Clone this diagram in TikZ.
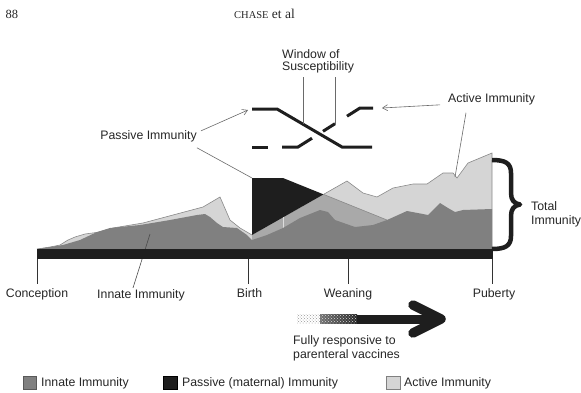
\documentclass[tikz,border=0pt]{standalone}
\usepackage{fontspec}
\setmainfont{Liberation Sans}
\newfontfamily\headserif{Liberation Serif}
\usetikzlibrary{arrows.meta,patterns,calc}
\definecolor{innate}{HTML}{808080}
\definecolor{active}{HTML}{D5D5D5}
\definecolor{overlap}{HTML}{A9A9A9}
\definecolor{passive}{HTML}{1E1E1E}
\definecolor{txt}{HTML}{262626}
\definecolor{thin}{HTML}{6A6A6A}
\definecolor{edge}{HTML}{8A8A8A}
\begin{document}
\begin{tikzpicture}[x=1pt,y=-1pt,
  lbl/.style={font=\fontsize{12.3}{14}\selectfont, text=txt, inner sep=0pt},
  thinline/.style={draw=thin, line width=0.6pt},
  pointer/.style={thinline, -{Straight Barb[length=5pt,width=6pt]}},
  schem/.style={line width=3pt, passive},
  ticks/.style={line width=0.8pt, black!80},
  legbox/.style={line width=0.6pt}]
\useasboundingbox (0,0) rectangle (581,392);

% header
\node[font=\headserif\fontsize{12.5}{14}\selectfont, anchor=base west, inner sep=0pt, text=txt] (pg) at (5.5,18) {88};
\node[font=\headserif\fontsize{13.5}{14}\selectfont, anchor=base west, inner sep=0pt, text=txt] (hd) at (234,18) {{\fontsize{10.5}{12}\selectfont CHASE} et al};

% key points
\coordinate (r0) at (252,235);
\coordinate (r1) at (347,181);
\coordinate (d0) at (283,178);
\coordinate (d1) at (387,220);
\coordinate (cx) at (intersection of r0--r1 and d0--d1);
\coordinate (pcorner) at (252,178);
\coordinate (actpt) at (455,177);
\coordinate (innpt) at (150,234);

% active (total) envelope
\fill[active] (37,249) -- (50,247) -- (60,245) -- (68,240) -- (75,237) -- (85,234) -- (100,232) -- (113,228) -- (143,223) -- (203,207) -- (220,197) -- (230,220) -- (240,228) -- (r0) -- (r1) -- (363,193) -- (377,197) -- (393,188) -- (413,184) -- (427,184) -- (443,173) -- (453,173) -- (457,178) -- (468,163) -- (492,153) -- (492,249) -- cycle;
\draw[edge, line width=0.6pt] (37,249) -- (50,247) -- (60,245) -- (68,240) -- (75,237) -- (85,234) -- (100,232) -- (113,228) -- (143,223) -- (203,207) -- (220,197) -- (230,220) -- (240,228) -- (r0);
\draw[edge, line width=0.6pt] (cx) -- (r1) -- (363,193) -- (377,197) -- (393,188) -- (413,184) -- (427,184) -- (443,173) -- (453,173) -- (457,178) -- (468,163) -- (492,153) -- (492,249);

% overlap of passive and active
\fill[overlap] (r0) -- (cx) -- (d1) -- (387,249) -- (252,249) -- cycle;
% passive (maternal) above
\fill[passive] (pcorner) -- (d0) -- (cx) -- (r0) -- cycle;
\draw[edge, line width=0.6pt] (cx) -- (d1);
\draw[active!80!white, line width=0.6pt] (283,217.4) -- (283,229);

% innate
\fill[innate] (37,249) -- (63,245) -- (80,240) -- (97,232) -- (110,228) -- (140,225) -- (170,220) -- (197,215) -- (205,214) -- (210,217) -- (217,223) -- (223,227) -- (237,228) -- (247,235) -- (252,240) -- (267,235) -- (283,228) -- (300,218) -- (320,210) -- (328,212) -- (335,220) -- (355,227) -- (373,225) -- (387,220) -- (407,211) -- (423,214) -- (428,215) -- (440,203) -- (448,208) -- (455,212) -- (463,210) -- (492,209) -- (492,249) -- cycle;

% innate pointer
\node[lbl, anchor=base] (innl) at (141,298) {Innate Immunity};
\draw[thinline, draw=black!70] (innpt) -- ($(innl.north)+(-8,-1)$);

% time bar and ticks
\fill[passive] (37,249) rectangle (493,259);
\draw[ticks] (37.5,259) -- (37.5,284);
\draw[ticks] (248.5,259) -- (248.5,284);
\draw[ticks] (348.3,259) -- (348.3,284);
\draw[ticks] (492.5,259) -- (492.5,284);
\node[lbl, anchor=base] (conc) at (37,297) {Conception};
\node[lbl, anchor=base] (birth) at (249.5,297) {Birth};
\node[lbl, anchor=base] (wean) at (348,297) {Weaning};
\node[lbl, anchor=base] (pub) at (494,297) {Puberty};

% brace
\draw[passive, line width=4.5pt, line join=round] (492,160) .. controls (505,160) and (511,163) .. (511,173) -- (511,193) .. controls (511,200) and (514,203.5) .. (520,204.5) .. controls (514,205.5) and (511,209) .. (511,216) -- (511,236) .. controls (511,246) and (505,249) .. (492,249);
\node[lbl, anchor=base west] (tot1) at (531,210.7) {Total};
\node[lbl, anchor=base west] (tot2) at (531,224) {Immunity};

% window of susceptibility schematic
\draw[schem] (252,109) -- (277,109) -- (342,147) -- (372,147);
\draw[schem] (252,147) -- (268,147);
\draw[schem, line join=miter] (282,147) -- (298,147) -- (312,138.2);
\draw[schem] (323,131.3) -- (335,123.7);
\draw[schem, line join=miter] (347,116.2) -- (360,108) -- (373,108);
\node[lbl, anchor=base west] (win1) at (282,58.5) {Window of};
\node[lbl, anchor=base west] (win2) at (282,70.5) {Susceptibility};
\coordinate (w1) at (303,124.2);
\coordinate (w2) at (335,123.7);
\draw[thinline] (303,77) -- (w1);
\draw[thinline] (335,77) -- (w2);

% passive immunity label
\node[lbl, anchor=base] (pi) at (148.5,139) {Passive Immunity};
\coordinate (ptip) at (248,110);
\draw[pointer] ($(pi.north east)+(4,1)$) -- (ptip);
\draw[thinline] ($(pi.south east)+(0,6)$) -- (pcorner);

% active immunity label
\node[lbl, anchor=base west] (ai) at (448,102) {Active Immunity};
\coordinate (atip) at (382,108);
\draw[pointer] ($(ai.west)+(-8,6)$) -- (atip);
\draw[thinline] ($(ai.south west)+(18,8)$) -- (actpt);

% vaccine arrow (stippled tail)
\fill[pattern=crosshatch dots, pattern color=black!40] (297,314.5) rectangle (320,323.5);
\shade[left color=black!55, right color=black!85] (320,314.5) rectangle (357,323.5);
\fill[pattern=crosshatch dots, pattern color=white!85!black] (320,314.5) rectangle (357,323.5);
\fill[passive] (357,314.5) rectangle (378,323.5);
\draw[passive, line width=9pt] (377,319) -- (438,319);
\draw[passive, line width=9.5pt, line cap=round, line join=round] (413,305) -- (441,319) -- (413,333);
\node[lbl, anchor=base west] (fr1) at (293,344.5) {Fully responsive to};
\node[lbl, anchor=base west] (fr2) at (293,358.5) {parenteral vaccines};

% legend
\draw[legbox, fill=innate, draw=black!65] (23,376) rectangle (36,389);
\node[lbl, anchor=base west] (lg1) at (41,386.5) {Innate Immunity};
\draw[legbox, fill=passive, draw=black] (163.5,376) rectangle (177,389);
\node[lbl, anchor=base west] (lg2) at (182,386.5) {Passive (maternal) Immunity};
\draw[legbox, fill=active, draw=black!50] (386,376) rectangle (400,389);
\node[lbl, anchor=base west] (lg3) at (404,386.5) {Active Immunity};
\end{tikzpicture}
\end{document}
